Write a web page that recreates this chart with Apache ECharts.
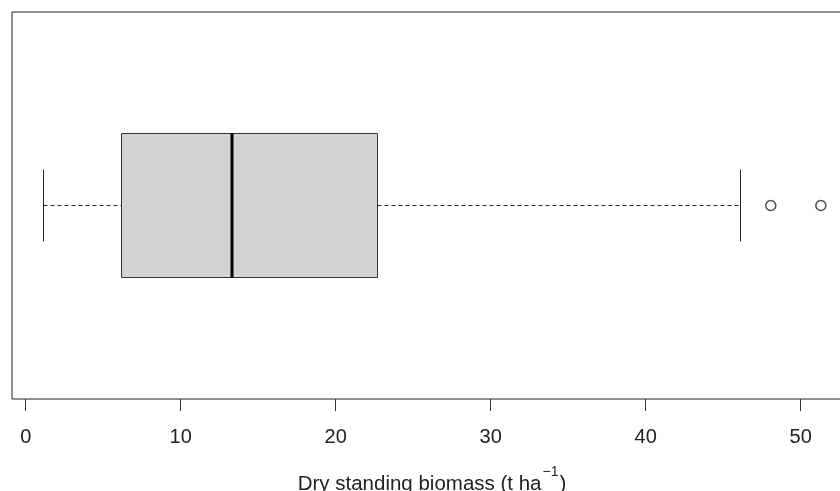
<!DOCTYPE html>
<html>
<head>
<meta charset="utf-8">
<script src="https://cdn.jsdelivr.net/npm/echarts@6/dist/echarts.min.js"></script>
<style>
html,body{margin:0;padding:0;background:#fff;}
#chart{width:840px;height:491px;}
</style>
</head>
<body>
<div id="chart"></div>
<script>
// Data (dry standing biomass, t/ha)
const boxStats = [1.12, 6.2, 13.32, 22.72, 46.09]; // lower whisker, Q1, median, Q3, upper whisker
const outliers = [48.07, 51.3];
const tickValues = [0, 10, 20, 30, 40, 50];
const axisTitle = 'Dry standing biomass (t ha';
const axisTitleSup = '\u22121';

const chart = echarts.init(document.getElementById('chart'), null, {renderer: 'canvas'});
const FONT = '"Liberation Sans", Arial, Helvetica, sans-serif';
const crisp = v => Math.round(v - 0.5) + 0.5;

const option = {
  backgroundColor: '#ffffff',
  animation: false,
  grid: {
    left: 12, top: 12, width: 840, height: 387,
    outerBoundsMode: 'none',
    containLabel: false,
    show: true, borderColor: '#222', borderWidth: 1, backgroundColor: 'transparent'
  },
  xAxis: {
    type: 'value',
    min: -0.887, max: 53.31,
    axisLine: {show: false},
    splitLine: {show: false},
    axisTick: {show: true, customValues: tickValues, length: 12, inside: false, lineStyle: {color: '#333', width: 1}},
    axisLabel: {customValues: tickValues, margin: 28, color: '#222', fontSize: 20, fontFamily: FONT},
    name: '{a|' + axisTitle + '}{s|' + axisTitleSup + '}{a|)}',
    nameLocation: 'middle',
    nameGap: 66,
    nameTextStyle: {
      rich: {
        a: {fontSize: 20.5, fontFamily: FONT, color: '#222', lineHeight: 30, verticalAlign: 'bottom'},
        s: {fontSize: 14, fontFamily: FONT, color: '#222', lineHeight: 16, verticalAlign: 'top', padding: [0, 1, 0, 1]}
      }
    }
  },
  yAxis: {
    type: 'value', min: 0.46, max: 1.54, show: false
  },
  series: [
    {
      type: 'custom',
      data: [[boxStats[0], boxStats[1], boxStats[2], boxStats[3], boxStats[4], 1]],
      renderItem: function (params, api) {
        const y = api.value(5);
        const lo = api.value(0), q1 = api.value(1), med = api.value(2), q3 = api.value(3), hi = api.value(4);
        const xLo = crisp(api.coord([lo, y])[0]);
        const xQ1 = crisp(api.coord([q1, y])[0]);
        const xMed = Math.round(api.coord([med, y])[0]);
        const xQ3 = crisp(api.coord([q3, y])[0]);
        const xHi = crisp(api.coord([hi, y])[0]);
        const boxTop = crisp(api.coord([q1, y + 0.2])[1]);
        const boxBot = crisp(api.coord([q1, y - 0.2])[1]);
        const capTop = api.coord([q1, y + 0.1])[1];
        const capBot = api.coord([q1, y - 0.1])[1];
        const cy = crisp(api.coord([med, y])[1]);
        const dash = {stroke: '#222', lineWidth: 1, lineDash: [4, 3]};
        const solid = {stroke: '#222', lineWidth: 1};
        return {
          type: 'group',
          children: [
            {type: 'line', shape: {x1: xLo, y1: cy, x2: xQ1, y2: cy}, style: dash},
            {type: 'line', shape: {x1: xQ3, y1: cy, x2: xHi, y2: cy}, style: dash},
            {type: 'line', shape: {x1: xLo, y1: capTop, x2: xLo, y2: capBot}, style: solid},
            {type: 'line', shape: {x1: xHi, y1: capTop, x2: xHi, y2: capBot}, style: solid},
            {type: 'rect', shape: {x: xQ1, y: boxTop, width: xQ3 - xQ1, height: boxBot - boxTop},
              style: {fill: '#d3d3d3', stroke: '#333', lineWidth: 1}},
            {type: 'line', shape: {x1: xMed, y1: boxTop, x2: xMed, y2: boxBot}, style: {stroke: '#000', lineWidth: 3}}
          ]
        };
      }
    },
    {
      type: 'scatter',
      data: outliers.map(v => [v, 1]),
      symbol: 'circle',
      symbolSize: 10,
      itemStyle: {color: 'transparent', borderColor: '#222', borderWidth: 1.5}
    }
  ]
};
chart.setOption(option);
</script>
</body>
</html>
